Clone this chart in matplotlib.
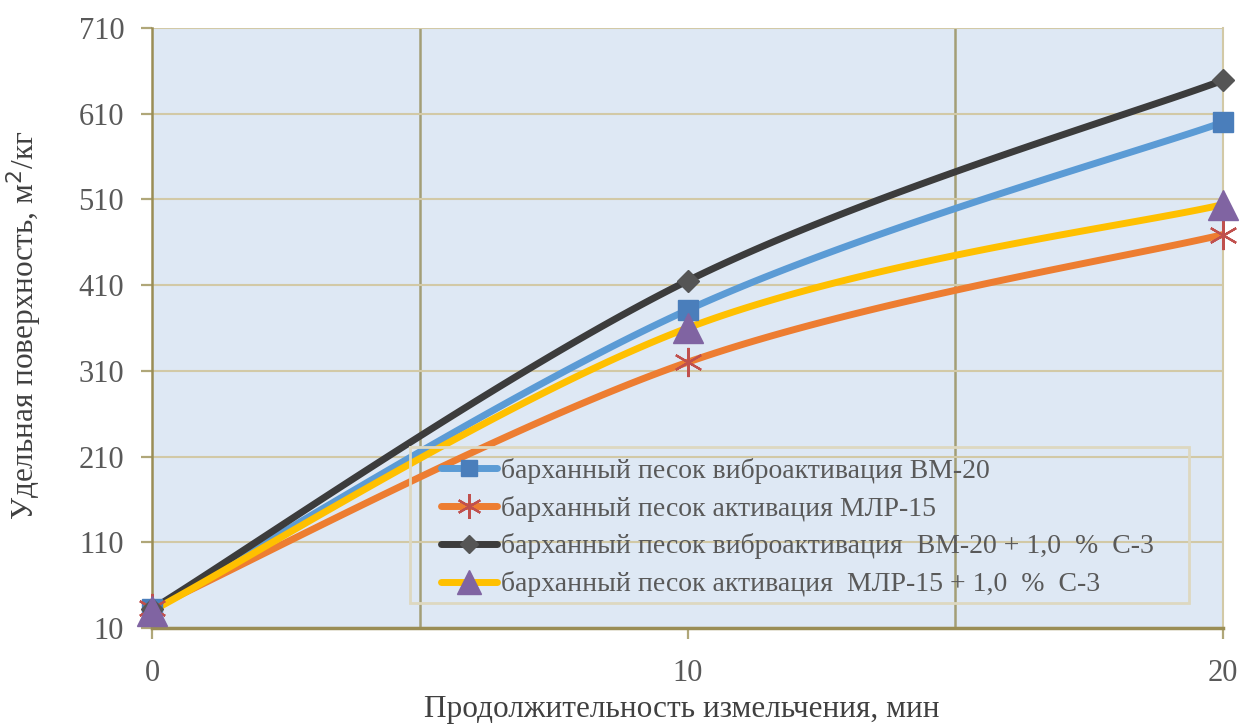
import matplotlib.pyplot as plt
import matplotlib.lines as mlines
from matplotlib.patches import Rectangle
from matplotlib.ticker import FixedLocator
import numpy as np

# grinding time, min
grind_time = [0, 10, 20]

# specific surface, m2/kg
vm20 = [32, 381, 600]
mlr15 = [33, 320, 469]
vm20_c3 = [32, 415, 649]
mlr15_c3 = [30, 360, 504]

labels = [
    "барханный песок виброактивация ВМ-20",
    "барханный песок активация МЛР-15",
    "барханный песок виброактивация  ВМ-20 + 1,0  %  С-3",
    "барханный песок активация  МЛР-15 + 1,0  %  С-3",
]

y_ticks = [10, 110, 210, 310, 410, 510, 610, 710]
x_ticks = [0, 10, 20]
x_grid = [5, 10, 15]


def smooth(xs, ys, sx, sy, n=60):
    # Bezier smoothing through the points (computed in screen-like units)
    p = np.column_stack([np.asarray(xs, float) * sx, np.asarray(ys, float) * sy])
    ext = np.vstack([p[0], p, p[-1]])
    out = []
    t = np.linspace(0, 1, n)[:, None]
    for i in range(len(p) - 1):
        p0, p1 = ext[i + 1], ext[i + 2]
        c1 = p0 + (ext[i + 2] - ext[i]) / 6
        c2 = p1 - (ext[i + 3] - ext[i + 1]) / 6
        seg = ((1 - t) ** 3) * p0 + 3 * ((1 - t) ** 2) * t * c1 + 3 * (1 - t) * t ** 2 * c2 + t ** 3 * p1
        out.append(seg)
    out = np.vstack(out)
    return out[:, 0] / sx, out[:, 1] / sy


plt.rcParams["font.family"] = ["Liberation Serif", "DejaVu Serif"]

fig = plt.figure(figsize=(12.43, 7.26), dpi=100)
ax = fig.add_axes([0.1223, 0.135, 0.8616, 0.8264])
ax.set_facecolor("#DEE8F4")

sx = 1071 / 20
sy = 600 / 700

series = [
    (vm20, "#5B9BD5", dict(marker="s", ms=14, mfc="#4A7EBB", mec="#4A7EBB")),
    (mlr15, "#ED7D31", dict(marker=(6, 2, 0), ms=21, mec="#C0504D", mew=1.6)),
    (vm20_c3, "#3C3C3C", dict(marker="D", ms=11, mfc="#555555", mec="#555555")),
    (mlr15_c3, "#FFC000", dict(marker="^", ms=21, mfc="#8064A2", mec="#8064A2")),
]

handles = []
for (vals, color, mk), lab in zip(series, labels):
    xs, ys = smooth(grind_time, vals, sx, sy)
    ax.plot(xs, ys, color=color, lw=5, solid_capstyle="round", zorder=3)
    ax.plot(grind_time, vals, ls="none", zorder=4, clip_on=False, **mk)
    handles.append(mlines.Line2D([], [], color=color, lw=5, solid_capstyle="round",
                                 label=lab, **{**mk, "ms": mk["ms"] * 0.85}))

ax.set_xlim(0, 20)
ax.set_ylim(10, 710)
ax.xaxis.set_major_locator(FixedLocator(x_ticks))
ax.xaxis.set_minor_locator(FixedLocator(x_grid))
ax.yaxis.set_major_locator(FixedLocator(y_ticks))

# light horizontal grid, darker vertical grid
ax.grid(True, axis="y", color="#D2C9A6", lw=1.5, zorder=1)
ax.grid(True, axis="x", which="minor", color="#A39E76", lw=1.8, zorder=1)

ax.spines["top"].set_visible(False)
ax.spines["right"].set_color("#D2C9A6")
ax.spines["right"].set_linewidth(1.5)
ax.spines["left"].set_color("#9A8D55")
ax.spines["bottom"].set_color("#9A8D55")
ax.spines["left"].set_linewidth(1.8)
ax.spines["bottom"].set_linewidth(2.5)
ax.tick_params(axis="both", which="major", length=8, width=1.6, color="#B0A779",
               labelsize=22, labelcolor="#595959", direction="out")
ax.tick_params(axis="x", which="minor", length=0)
ax.tick_params(axis="x", pad=14)
ax.tick_params(axis="y", pad=12)

ax.set_xlabel("Продолжительность измельчения, мин", fontsize=22.5, color="#404040")
ax.set_ylabel("Удельная поверхность, м$^{2}$/кг", fontsize=22.5, color="#404040")
ax.xaxis.set_label_coords(0.495, -0.112)
ax.yaxis.set_label_coords(-0.101, 0.505)

# legend frame box
ax.add_patch(Rectangle((0.241, 0.042), 0.7275, 0.26, transform=ax.transAxes, fill=False,
                       edgecolor="#DDD8C0", lw=2, zorder=5))
leg = ax.legend(handles=handles, loc="upper left", bbox_to_anchor=(0.270, 0.284),
                fontsize=20, frameon=False, handlelength=2.0, handletextpad=0.15,
                labelspacing=0.43, borderpad=0, borderaxespad=0)
for t in leg.get_texts():
    t.set_color("#595959")

plt.savefig("out.png", dpi=100)
